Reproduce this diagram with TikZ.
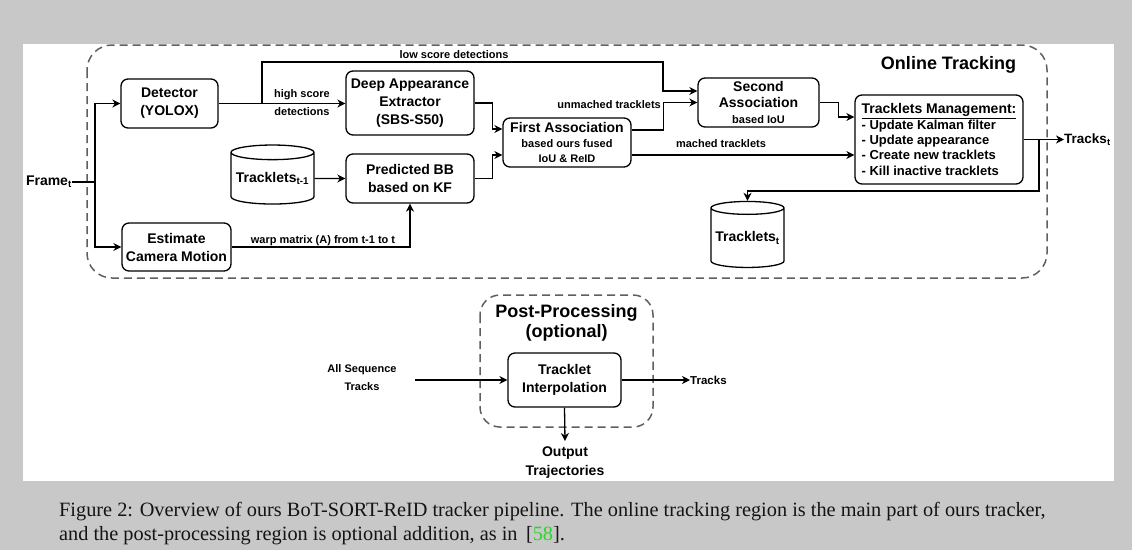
\documentclass[tikz,border=0pt]{standalone}
\usepackage{fontspec}
\setmainfont{Liberation Serif}
\newfontfamily\arialfont{Liberation Sans}
\usetikzlibrary{arrows.meta,shapes.geometric}
\definecolor{pagegray}{RGB}{200,200,200}
\definecolor{dashgray}{RGB}{95,95,95}
\definecolor{citegreen}{RGB}{40,215,40}
\definecolor{captext}{RGB}{20,20,20}

\begin{document}
\begin{tikzpicture}[x=1pt,y=-1pt,
  box/.style={draw,rounded corners=7pt,line width=1.3pt,inner sep=0pt,align=center,
    font=\arialfont\bfseries\fontsize{14}{18}\selectfont},
  db/.style={draw,cylinder,shape border rotate=90,aspect=0.2,line width=1.3pt,inner sep=0pt,
    font=\arialfont\bfseries\fontsize{14}{18}\selectfont},
  lbl/.style={inner sep=0pt,align=center,font=\arialfont\bfseries\fontsize{11}{18}\selectfont},
  line/.style={line width=1.3pt},
  arr/.style={line width=1.3pt,-{Stealth[length=8pt,width=8pt,inset=2.5pt]}},
  region/.style={draw=dashgray,line width=1.5pt,dash pattern=on 8pt off 5pt,rounded corners=25pt}]

%page and panel
\fill[pagegray] (0,0) rectangle (1132,550);
\fill[white] (23,44) rectangle (1114,481);

%online tracking region
\draw[region] (87,45) rectangle (1047,278);
\node[font=\arialfont\bfseries\fontsize{18}{21}\selectfont] (onlinelbl) at (948.5,65) {Online Tracking};

%blocks
\node[box,minimum width=97pt,minimum height=49pt] (det) at (169.5,103.5) {Detector\\(YOLOX)};
\node[box,minimum width=109pt,minimum height=48pt] (cam) at (176.5,247) {Estimate\\Camera Motion};
\node[box,minimum width=128pt,minimum height=64pt] (dae) at (410,103) {Deep Appearance\\Extractor\\(SBS-S50)};
\node[box,minimum width=128pt,minimum height=49pt] (pbb) at (410,178.5) {Predicted BB\\based on KF};
\node[db,minimum width=83pt,minimum height=59pt] (tkprev) at (272.5,178.5) {Tracklets\textsubscript{t-1}};
\node[box,minimum width=128pt,minimum height=49pt,font=\arialfont\bfseries\fontsize{14}{15}\selectfont] (fa) at (567,142.5)
  {First Association\\{\fontsize{11}{14}\selectfont based ours fused}\\{\fontsize{11}{14}\selectfont IoU \& ReID}};
\node[box,minimum width=121pt,minimum height=49pt,font=\arialfont\bfseries\fontsize{14}{16}\selectfont] (sa) at (758.5,102.5)
  {Second\\Association\\{\fontsize{11}{16}\selectfont based IoU}};
\node[box,minimum width=168pt,minimum height=89pt,align=left,font=\arialfont\bfseries\fontsize{13}{15.3}\selectfont] (tm) at (939,139.5)
  {{\fontsize{14}{15.3}\selectfont\underline{Tracklets Management:}}\\- Update Kalman filter\\- Update appearance\\- Create new tracklets\\- Kill inactive tracklets};
\node[db,minimum width=73pt,minimum height=66pt] (tkcur) at (747.5,238) {Tracklets\textsubscript{t}};

%frame input
\node[anchor=east,inner sep=0pt,font=\arialfont\bfseries\fontsize{14}{16}\selectfont] (frame) at (72,182) {Frame\textsubscript{t}};
\coordinate (fsplit) at (95,182);
\draw[line] (frame.east) -- (fsplit);
\draw[arr] (fsplit) |- (det.west);
\draw[arr] (fsplit) |- (cam.west);

%detections
\draw[arr] (det.east) -- (det.east -| dae.west);
\coordinate (lowsplit) at (262,103.5);
\draw[arr] (lowsplit) |- (663,62) |- ([yshift=11.5pt]sa.west);
\node[lbl] (hslbl) at (302,95) {high score};
\node[lbl] (detlbl) at (302,112) {detections};
\node[lbl] (lowlbl) at (454,55) {low score detections};

%tracklets and camera motion
\draw[arr] (tkprev.east) -- (pbb.west);
\draw[arr] (cam.east) -| (pbb.south);
\node[lbl] (warplbl) at (323,241) {warp matrix (A) from t-1 to t};

%first association inputs
\draw[arr] (dae.east) -- ++(18,0) |- ([yshift=13.5pt]fa.west);
\draw[arr] (pbb.east) -- ++(18,0) |- ([yshift=-12.5pt]fa.west);

%association outputs
\draw[arr] ([yshift=12.5pt]fa.east) -- ++(32,0) |- (sa.west);
\node[lbl,anchor=east] (unmlbl) at (661,105) {unmached tracklets};
\draw[arr] ([yshift=-12.5pt]fa.east) -- ([yshift=-12.5pt]fa.east -| tm.west);
\node[lbl] (matlbl) at (721,144) {mached tracklets};
\draw[arr] (sa.east) -- ++(19,0) |- ([yshift=22.5pt]tm.west);

%tracks output and feedback
\node[anchor=west,inner sep=0pt,font=\arialfont\bfseries\fontsize{13.5}{16}\selectfont] (tracks) at (1064,139.5) {Tracks\textsubscript{t}};
\draw[arr] (tm.east) -- (tracks.west);
\coordinate (fbsplit) at (1039,139.5);
\draw[arr] (fbsplit) -- ++(0,51.5) -| (tkcur.north);

%post-processing region
\draw[region,rounded corners=20pt] (480,295) rectangle (653,427);
\node[align=center,font=\arialfont\bfseries\fontsize{18}{20}\selectfont] (postlbl) at (566.5,323) {Post-Processing\\(optional)};
\node[box,minimum width=113pt,minimum height=54pt] (ti) at (564.5,380) {Tracklet\\Interpolation};
\node[lbl] (allseq) at (362,378) {All Sequence\\Tracks};
\coordinate (tiin) at (415,380);
\draw[arr] (tiin) -- (ti.west);
\node[lbl,anchor=west,font=\arialfont\bfseries\fontsize{11.5}{14}\selectfont] (tilbl) at (690,380) {Tracks};
\draw[arr] (ti.east) -- (tilbl.west);
\node[box,draw=none,inner ysep=5pt,font=\arialfont\bfseries\fontsize{14}{19}\selectfont] (outtraj) at (565,462.5) {Output\\Trajectories};
\draw[arr] (ti.south) -- (outtraj.north);

%caption
\node[anchor=base west,inner sep=0pt,text=captext,font=\fontsize{20.3}{24}\selectfont] (cap1) at (59,516)
  {Figure 2: Overview of ours BoT-SORT-ReID tracker pipeline. The online tracking region is the main part of ours tracker,};
\node[anchor=base west,inner sep=0pt,text=captext,font=\fontsize{20.3}{24}\selectfont] (cap2) at (59,540)
  {and the post-processing region is optional addition, as in \,[\textcolor{citegreen}{58}].};

\end{tikzpicture}
\end{document}
